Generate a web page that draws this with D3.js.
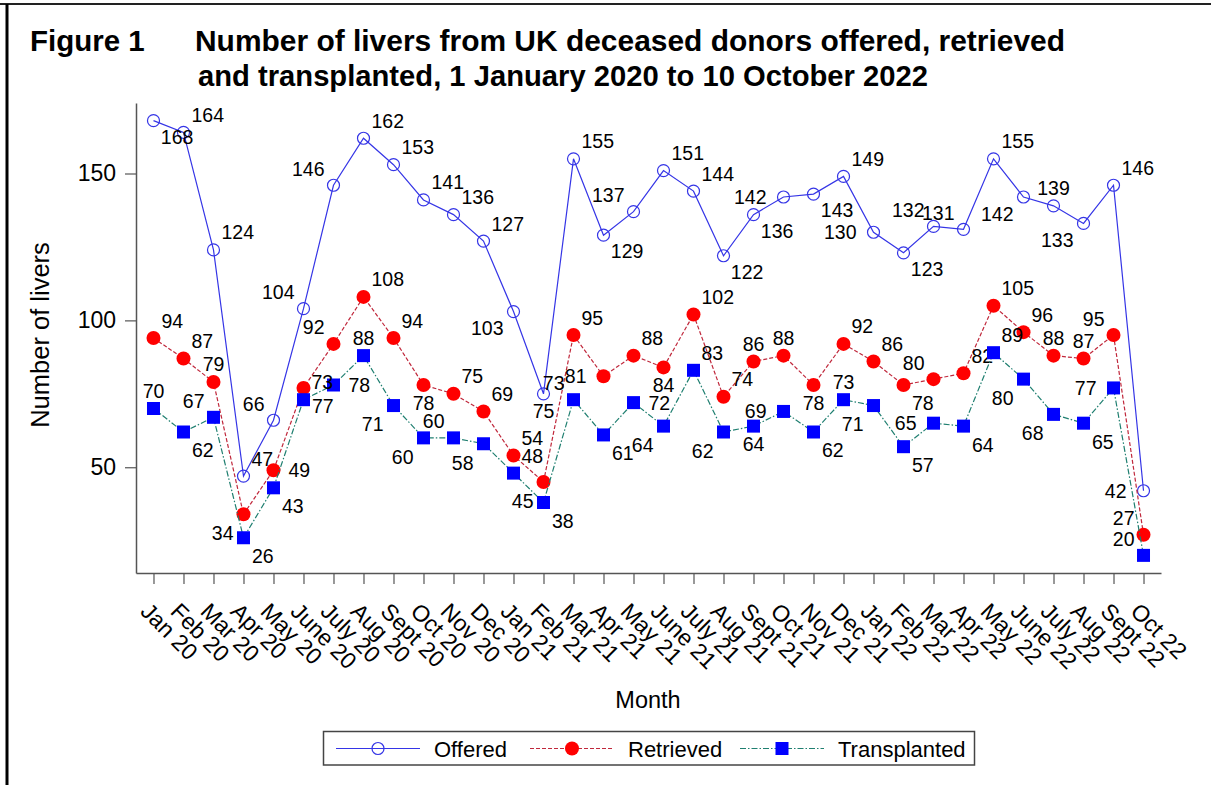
<!DOCTYPE html>
<html>
<head>
<meta charset="utf-8">
<script src="https://cdn.jsdelivr.net/npm/d3@7"></script>
<style>
  html, body { margin: 0; padding: 0; background: #fff; }
  svg { display: block; font-family: "Liberation Sans", Arial, sans-serif; }
</style>
</head>
<body>
<svg id="chart" width="1211" height="785"></svg>
<script>
// ---------------- data ----------------
const months = ["Jan 20","Feb 20","Mar 20","Apr 20","May 20","June 20","July 20","Aug 20","Sept 20","Oct 20","Nov 20","Dec 20",
                "Jan 21","Feb 21","Mar 21","Apr 21","May 21","June 21","July 21","Aug 21","Sept 21","Oct 21","Nov 21","Dec 21",
                "Jan 22","Feb 22","Mar 22","Apr 22","May 22","June 22","July 22","Aug 22","Sept 22","Oct 22"];
const offered      = [168,164,124,47,66,104,146,162,153,141,136,127,103,75,155,129,137,151,144,122,136,142,143,149,130,123,132,131,155,142,139,133,146,42];
const retrieved    = [94,87,79,34,49,77,92,108,94,78,75,69,54,45,95,81,88,84,102,74,86,88,78,92,86,78,80,82,105,96,88,87,95,27];
const transplanted = [70,62,67,26,43,73,78,88,71,60,60,58,48,38,73,61,72,64,83,62,64,69,62,73,71,57,65,64,89,80,68,65,77,20];
const yTicks = [50, 100, 150];
const seriesNames = ["Offered", "Retrieved", "Transplanted"];
// label clock positions (placement of value labels around markers)
const offeredLabelPos      = [4,2,2,2,10,10,10,2,2,2,2,2,8,6,2,4,10,2,2,4,4,9,4,2,9,4,10,10,2,8,12,8,2,9];
const retrievedLabelPos    = [2,2,12,8,3,4,10,2,2,6,2,2,2,8,2,9,2,6,2,2,12,12,6,2,2,4,10,2,2,2,12,12,10,10];
const transplantedLabelPos = [12,4,10,4,4,2,3,12,8,8,10,8,2,4,10,4,3,8,2,8,6,9,4,12,8,4,9,4,2,8,8,4,9,10];

// ---------------- layout ----------------
const svg = d3.select("#chart");
const plot = { left: 136, right: 1161, top: 103, bottom: 573 };
const axisColor = "#555";

const x = d3.scalePoint().domain(months).range([plot.left, plot.right]).padding(0.583);
const y = d3.scaleLinear().domain([14, 174]).range([plot.bottom, plot.top]);

// frame
svg.append("line").attr("x1", 0).attr("x2", 1211).attr("y1", 4).attr("y2", 4)
  .attr("stroke", "#222").attr("stroke-width", 2);
svg.append("line").attr("x1", 7).attr("x2", 7).attr("y1", 4).attr("y2", 785)
  .attr("stroke", "#000").attr("stroke-width", 3);

// title
const tfs = 29.5;
svg.append("text").attr("x", 30).attr("y", 51).attr("font-size", tfs).attr("font-weight", "bold").text("Figure 1");
svg.append("text").attr("x", 195).attr("y", 51).attr("font-size", tfs).attr("font-weight", "bold")
  .attr("textLength", 870).attr("lengthAdjust", "spacingAndGlyphs")
  .text("Number of livers from UK deceased donors offered, retrieved");
svg.append("text").attr("x", 198).attr("y", 86).attr("font-size", tfs).attr("font-weight", "bold")
  .attr("textLength", 730).attr("lengthAdjust", "spacingAndGlyphs")
  .text("and transplanted, 1 January 2020 to 10 October 2022");

// y axis
const yAxis = svg.append("g").attr("transform", `translate(${plot.left},0)`)
  .call(d3.axisLeft(y).tickValues(yTicks).tickSize(11).tickSizeOuter(0).tickPadding(9));
yAxis.select(".domain").attr("stroke", axisColor).attr("stroke-width", 1.5);
yAxis.selectAll(".tick line").attr("stroke", axisColor).attr("stroke-width", 1.2);
yAxis.selectAll(".tick text").attr("font-size", 23).attr("fill", "#000")
  .attr("font-family", "Liberation Sans, Arial, sans-serif");

// x axis
const xAxis = svg.append("g").attr("transform", `translate(0,${plot.bottom})`)
  .call(d3.axisBottom(x).tickSize(11).tickSizeOuter(0));
xAxis.select(".domain").attr("stroke", axisColor).attr("stroke-width", 1.5);
xAxis.selectAll(".tick line").attr("stroke", axisColor).attr("stroke-width", 1.2);
xAxis.selectAll(".tick text")
  .attr("font-size", 23).attr("fill", "#000").attr("font-family", "Liberation Sans, Arial, sans-serif")
  .attr("text-anchor", "start").attr("x", 0).attr("y", 0).attr("dy", "0.72em")
  .attr("transform", "translate(-3,28) rotate(45)");

// axis titles
svg.append("text").attr("x", 648).attr("y", 708).attr("text-anchor", "middle").attr("font-size", 23.5).text("Month");
svg.append("text").attr("transform", "translate(49,335) rotate(-90)").attr("text-anchor", "middle")
  .attr("font-size", 25.5).text("Number of livers");

// ---------------- series ----------------
const lfs = 19.5;
function labelOffset(pos, gap) {
  const g = gap;
  switch (pos) {
    case 12: return { dx: 0, dy: -18, anchor: "middle" };
    case 6:  return { dx: 0, dy: 17.5, anchor: "middle" };
    case 3:  return { dx: 15, dy: 0, anchor: "start" };
    case 9:  return { dx: -17, dy: 0, anchor: "end" };
    case 2:  return { dx: 8, dy: -17.5, anchor: "start" };
    case 4:  return { dx: 8 * g, dy: 17.5 * g, anchor: "start" };
    case 10: return { dx: -9, dy: -16.5, anchor: "end" };
    case 8:  return { dx: -10, dy: 18 * g, anchor: "end" };
  }
}

function drawSeries(values, positions, cfg) {
  const g = svg.append("g");
  const line = d3.line().x((d, i) => x(months[i])).y(d => y(d));
  g.append("path").datum(values).attr("d", line).attr("fill", "none")
    .attr("stroke", cfg.lineColor).attr("stroke-width", 1.2)
    .attr("stroke-dasharray", cfg.dash || null);
  values.forEach((v, i) => {
    const cx = x(months[i]), cy = y(v);
    cfg.marker(g, cx, cy);
  });
  values.forEach((v, i) => {
    const cx = x(months[i]), cy = y(v);
    const o = labelOffset(positions[i], cfg.gap);
    g.append("text").attr("x", cx + o.dx).attr("y", cy + o.dy + lfs * 0.36)
      .attr("text-anchor", o.anchor).attr("font-size", lfs).attr("fill", "#000").text(v);
  });
}

const offeredColor = "#3535e6";
const retrievedLine = "#c0283c";
const transLine = "#1f7f70";

const markers = {
  circleHollow: (g, cx, cy) => g.append("circle").attr("cx", cx).attr("cy", cy).attr("r", 6)
    .attr("fill", "none").attr("stroke", offeredColor).attr("stroke-width", 1.2),
  circleRed: (g, cx, cy) => g.append("circle").attr("cx", cx).attr("cy", cy).attr("r", 7)
    .attr("fill", "#ff0000"),
  squareBlue: (g, cx, cy) => g.append("rect").attr("x", cx - 6.5).attr("y", cy - 6.5)
    .attr("width", 13).attr("height", 13).attr("fill", "#0000ff")
};

drawSeries(offered, offeredLabelPos, { lineColor: offeredColor, marker: markers.circleHollow, gap: 0.92 });
drawSeries(retrieved, retrievedLabelPos, { lineColor: retrievedLine, dash: "4,2", marker: markers.circleRed, gap: 1.05 });
drawSeries(transplanted, transplantedLabelPos, { lineColor: transLine, dash: "6,2,1.5,2", marker: markers.squareBlue, gap: 1.05 });

// ---------------- legend ----------------
const legend = svg.append("g");
legend.append("rect").attr("x", 323.5).attr("y", 731.5).attr("width", 651).attr("height", 33.5)
  .attr("fill", "#fff").attr("stroke", "#444").attr("stroke-width", 1.5);
const legItems = [
  { x1: 336, x2: 420, text: 434, color: offeredColor, dash: null, marker: markers.circleHollow },
  { x1: 530, x2: 614, text: 628, color: retrievedLine, dash: "4,2", marker: markers.circleRed },
  { x1: 740, x2: 824, text: 838, color: transLine, dash: "6,2,1.5,2", marker: markers.squareBlue }
];
const ly = 748.5;
legItems.forEach((it, i) => {
  legend.append("line").attr("x1", it.x1).attr("x2", it.x2).attr("y1", ly).attr("y2", ly)
    .attr("stroke", it.color).attr("stroke-width", 1.2).attr("stroke-dasharray", it.dash);
  it.marker(legend, (it.x1 + it.x2) / 2, ly);
  legend.append("text").attr("x", it.text).attr("y", ly + 8).attr("font-size", 22).text(seriesNames[i]);
});
</script>
</body>
</html>
